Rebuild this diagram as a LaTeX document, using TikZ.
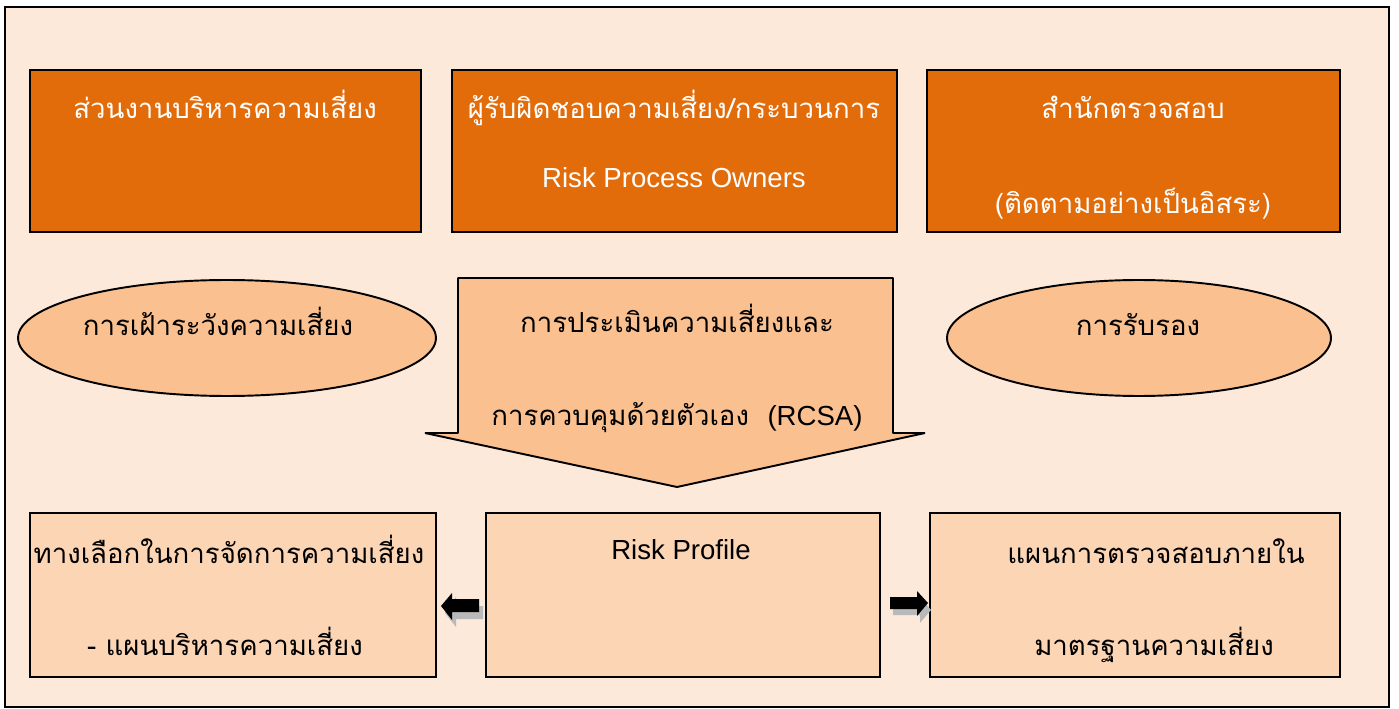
\documentclass[tikz,border=0pt]{standalone}
\usepackage{fontspec}
\setmainfont{Liberation Sans}
\newfontfamily\thaifont[Script=Thai]{Loma}
\usetikzlibrary{positioning, calc, shapes.geometric}
\definecolor{Fondo}{RGB}{253,233,217}
\definecolor{Naranja}{RGB}{227,108,10}
\definecolor{Durazno}{RGB}{250,192,144}
\definecolor{Claro}{RGB}{252,213,181}

\begin{document}
\begin{tikzpicture}[x=0.02cm, y=-0.02cm,
    topbox/.style={rectangle, draw=black, line width=1.1pt, fill=Naranja,
                   minimum height=3.24cm, inner sep=0pt},
    botbox/.style={rectangle, draw=black, line width=1.1pt, fill=Claro,
                   minimum height=3.28cm, inner sep=0pt},
    oval/.style={ellipse, draw=black, line width=1.1pt, fill=Durazno,
                 minimum height=2.32cm, inner sep=0pt},
    wtxt/.style={anchor=base, text=white, inner sep=0pt,
                 font=\fontsize{15.7}{18}\selectfont},
    btxt/.style={anchor=base, text=black, inner sep=0pt,
                 font=\fontsize{15.7}{18}\selectfont},
    blk/.style={fill=black},
    shd/.style={fill=gray!55}]

  \useasboundingbox (0,0) rectangle (1399,709);

  %--- Marco general ---
  \fill[Fondo] (5,7) rectangle (1389,707);
  \draw[line width=1pt] (5,7) rectangle (1389,707);

  %--- Fila superior ---
  \node[topbox, minimum width=7.82cm] (mgmt)  at (225.5,151) {};
  \node[topbox, minimum width=8.90cm] (owner) at (674.5,151) {};
  \node[topbox, minimum width=8.26cm] (audit) at (1133.5,151) {};
  \node[wtxt] (mgmt1)  at (225,119)  {\thaifont ส่วนงานบริหารความเสี่ยง};
  \node[wtxt] (owner1) at (674,119)  {\thaifont ผู้รับผิดชอบความเสี่ยง/กระบวนการ};
  \node[wtxt] (owner2) at (674,188)  {Risk Process Owners};
  \node[wtxt] (audit1) at (1133,119) {\thaifont สำนักตรวจสอบ};
  \node[wtxt] (audit2) at (1133,214) {\thaifont (ติดตามอย่างเป็นอิสระ)};

  %--- Fila central ---
  \node[oval, minimum width=8.36cm] (watch) at (227,338) {};
  \node[oval, minimum width=7.68cm] (cert)  at (1139,338) {};
  \node[btxt] (watch1) at (218,336)  {\thaifont การเฝ้าระวังความเสี่ยง};
  \node[btxt] (cert1)  at (1138,336) {\thaifont การรับรอง};

  \draw[line width=1.1pt, line join=bevel, fill=Durazno]
    (458,278) -- (893,278) -- (893,433) -- (925,433) -- (677,487)
    -- (425,433) -- (458,433) -- cycle;
  \node[btxt] (rcsa1) at (677,333) {\thaifont การประเมินความเสี่ยงและ};
  \node[btxt] (rcsa2) at (677,425) {\thaifont การควบคุมด้วยตัวเอง\ \ \normalfont(RCSA)};

  %--- Fila inferior ---
  \node[botbox, minimum width=8.12cm] (treat)   at (233,595)  {};
  \node[botbox, minimum width=7.88cm] (profile) at (683,595)  {};
  \node[botbox, minimum width=8.20cm] (plan)    at (1135,595) {};
  \node[btxt] (treat1)   at (229,563)  {\thaifont ทางเลือกในการจัดการความเสี่ยง};
  \node[btxt] (treat2)   at (225,655)  {\thaifont - แผนบริหารความเสี่ยง};
  \node[btxt] (profile1) at (681,559)  {Risk Profile};
  \node[btxt] (plan1)    at (1156,563) {\thaifont แผนการตรวจสอบภายใน};
  \node[btxt] (plan2)    at (1154,655) {\thaifont มาตรฐานความเสี่ยง};

  %--- Flechas pequeñas ---
  \fill[shd] (445,613) -- (456,597) -- (456,606) -- (483,606) -- (483,619)
    -- (456,619) -- (456,627) -- cycle;
  \fill[blk] (441,606) -- (452,593) -- (452,599) -- (479,599) -- (479,612)
    -- (452,612) -- (452,620) -- cycle;
  \fill[shd] (893,604) -- (920,604) -- (920,597) -- (931,610) -- (920,623)
    -- (920,615) -- (893,615) -- cycle;
  \fill[blk] (890,597) -- (917,597) -- (917,591) -- (928,603) -- (917,616)
    -- (917,609) -- (890,609) -- cycle;
\end{tikzpicture}
\end{document}
